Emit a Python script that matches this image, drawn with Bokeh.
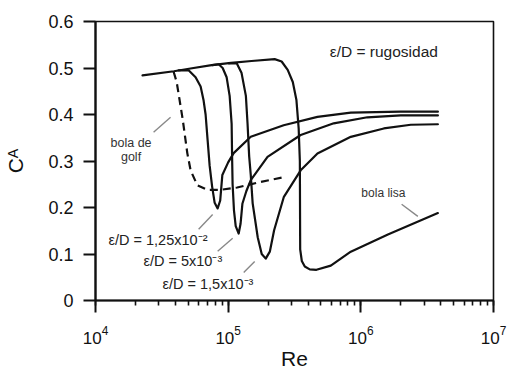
from bokeh.plotting import figure
from bokeh.models import Label, Range1d, FixedTicker, LogTicker
from bokeh.embed import file_html
from bokeh.resources import INLINE

# ---- data ----
smooth_re = [2.26e4, 3.9e4, 5.2e4, 7.5e4, 1.05e5, 1.5e5, 2.24e5, 2.53e5, 2.81e5, 3.07e5, 3.27e5,
             3.40e5, 3.47e5, 3.49e5, 3.59e5, 3.78e5, 4.12e5, 4.63e5, 5.94e5, 8.4e5, 1.6e6, 3.81e6]
smooth_ca = [0.484, 0.493, 0.499, 0.506, 0.511, 0.515, 0.519, 0.514, 0.496, 0.47, 0.431,
             0.37, 0.30, 0.11, 0.085, 0.073, 0.067, 0.066, 0.075, 0.105, 0.142, 0.188]

c1_re = [4.23e4, 5.03e4, 5.68e4, 6.2e4, 6.53e4, 6.76e4, 7.0e4, 7.25e4, 7.57e4, 7.91e4, 8.33e4,
         8.71e4, 9.04e4, 1.0e5, 1.10e5, 1.48e5, 2.62e5, 4.71e5, 8.4e5, 2.0e6, 3.81e6]
c1_ca = [0.495, 0.495, 0.48, 0.46, 0.43, 0.40, 0.345, 0.29, 0.245, 0.21, 0.198,
         0.215, 0.27, 0.297, 0.317, 0.352, 0.377, 0.395, 0.404, 0.406, 0.406]

c2_re = [7.64e4, 8.48e4, 9.09e4, 9.74e4, 1.026e5, 1.062e5, 1.072e5, 1.08e5, 1.106e5, 1.14e5, 1.20e5,
         1.24e5, 1.28e5, 1.37e5, 1.48e5, 1.98e5, 3.52e5, 6.25e5, 1.12e6, 2.0e6, 3.81e6]
c2_ca = [0.506, 0.508, 0.50, 0.48, 0.44, 0.38, 0.30, 0.25, 0.194, 0.16, 0.144,
         0.165, 0.208, 0.235, 0.259, 0.309, 0.356, 0.381, 0.394, 0.398, 0.398]

c3_re = [1.009e5, 1.16e5, 1.26e5, 1.36e5, 1.40e5, 1.44e5, 1.48e5, 1.53e5, 1.67e5, 1.79e5, 1.92e5,
         2.06e5, 2.22e5, 2.63e5, 3.52e5, 4.71e5, 8.4e5, 1.49e6, 2.38e6, 3.81e6]
c3_ca = [0.510, 0.510, 0.49, 0.44, 0.38, 0.31, 0.27, 0.209, 0.136, 0.10, 0.09,
         0.105, 0.151, 0.223, 0.28, 0.316, 0.352, 0.37, 0.378, 0.379]

golf_re = [3.88e4, 4.09e4, 4.31e4, 4.54e4, 4.92e4, 5.21e4, 5.85e4, 6.97e4, 8.78e4, 1.17e5, 1.76e5, 2.62e5]
golf_ca = [0.492, 0.47, 0.43, 0.39, 0.317, 0.28, 0.248, 0.238, 0.238, 0.243, 0.255, 0.265]

lead_x0 = [2.74e4, 5.99e4, 8.33e4, 1.31e5, 2.03e6]
lead_y0 = [0.362, 0.153, 0.106, 0.060, 0.207]
lead_x1 = [3.68e4, 7.64e4, 1.081e5, 1.585e5, 2.69e6]
lead_y1 = [0.394, 0.185, 0.134, 0.084, 0.181]

y_ticks = [0, 0.1, 0.2, 0.3, 0.4, 0.5, 0.6]
y_tick_labels = ["0", "0.1", "0.2", "0.3", "0.4", "0.5", "0.6"]

FONT = "Liberation Sans"
INK = "#111111"

p = figure(width=508, height=372, x_axis_type="log",
           x_range=Range1d(1e4, 1e7), y_range=Range1d(0, 0.6),
           output_backend="svg", toolbar_location=None,
           min_border_left=95, min_border_top=21, min_border_right=15, min_border_bottom=72)

p.background_fill_color = "white"
p.border_fill_color = "white"
p.outline_line_color = INK
p.outline_line_width = 1.6
p.xgrid.visible = False
p.ygrid.visible = False

for ax in (p.xaxis[0], p.yaxis[0]):
    ax.axis_line_width = 2.2
    ax.axis_line_color = INK
    ax.major_tick_line_color = INK
    ax.major_tick_line_width = 2
    ax.major_tick_out = 12
    ax.major_tick_in = 0
    ax.minor_tick_line_color = INK
    ax.minor_tick_line_width = 1.6
    ax.minor_tick_out = 5
    ax.minor_tick_in = 0
    ax.major_label_text_font = FONT
    ax.major_label_text_color = INK
    ax.axis_label_text_font = FONT
    ax.axis_label_text_font_style = "normal"
    ax.axis_label_text_color = INK
    ax.axis_label_text_font_size = "21px"

p.yaxis.ticker = FixedTicker(ticks=y_ticks)
p.yaxis.major_label_overrides = {t: l for t, l in zip(y_ticks, y_tick_labels)}
p.yaxis.minor_tick_line_color = None
p.yaxis.major_label_standoff = 10
p.yaxis.major_label_text_font_size = "18px"
p.yaxis.axis_label = "Cᴬ"
p.yaxis.axis_label_standoff = 18

p.xaxis.ticker = LogTicker(num_minor_ticks=10)
p.xaxis.major_label_standoff = 13
p.xaxis.major_label_text_font_size = "17px"
p.xaxis.axis_label = "Re"
p.xaxis.axis_label_standoff = 0

# curves
for xs, ys in ((smooth_re, smooth_ca), (c1_re, c1_ca), (c2_re, c2_ca), (c3_re, c3_ca)):
    p.line(xs, ys, line_color=INK, line_width=2.2, line_join="round", line_cap="round")
p.line(golf_re, golf_ca, line_color=INK, line_width=2.2, line_dash="8 5")

p.segment(lead_x0, lead_y0, lead_x1, lead_y1, line_color="#888888", line_width=1.4)

def lab(x, y, text, size, align="left", color="#222222"):
    p.add_layout(Label(x=x, y=y, text=text, text_font=FONT, text_font_size=size,
                       text_align=align, text_baseline="middle", text_color=color))

lab(5.83e5, 0.535, "ε/D = rugosidad", "15.5px")
lab(1.853e4, 0.338, "bola de", "12.5px", align="center", color="#333333")
lab(1.853e4, 0.308, "golf", "12.5px", align="center", color="#333333")
lab(1.254e4, 0.131, "ε/D = 1,25x10⁻²", "14.5px")
lab(2.30e4, 0.084, "ε/D = 5x10⁻³", "14.5px")
lab(3.20e4, 0.0345, "ε/D = 1,5x10⁻³", "14.5px")
lab(1.479e6, 0.2306, "bola lisa", "12px", align="center", color="#333333")

open("out.html", "w").write(file_html(p, INLINE))
